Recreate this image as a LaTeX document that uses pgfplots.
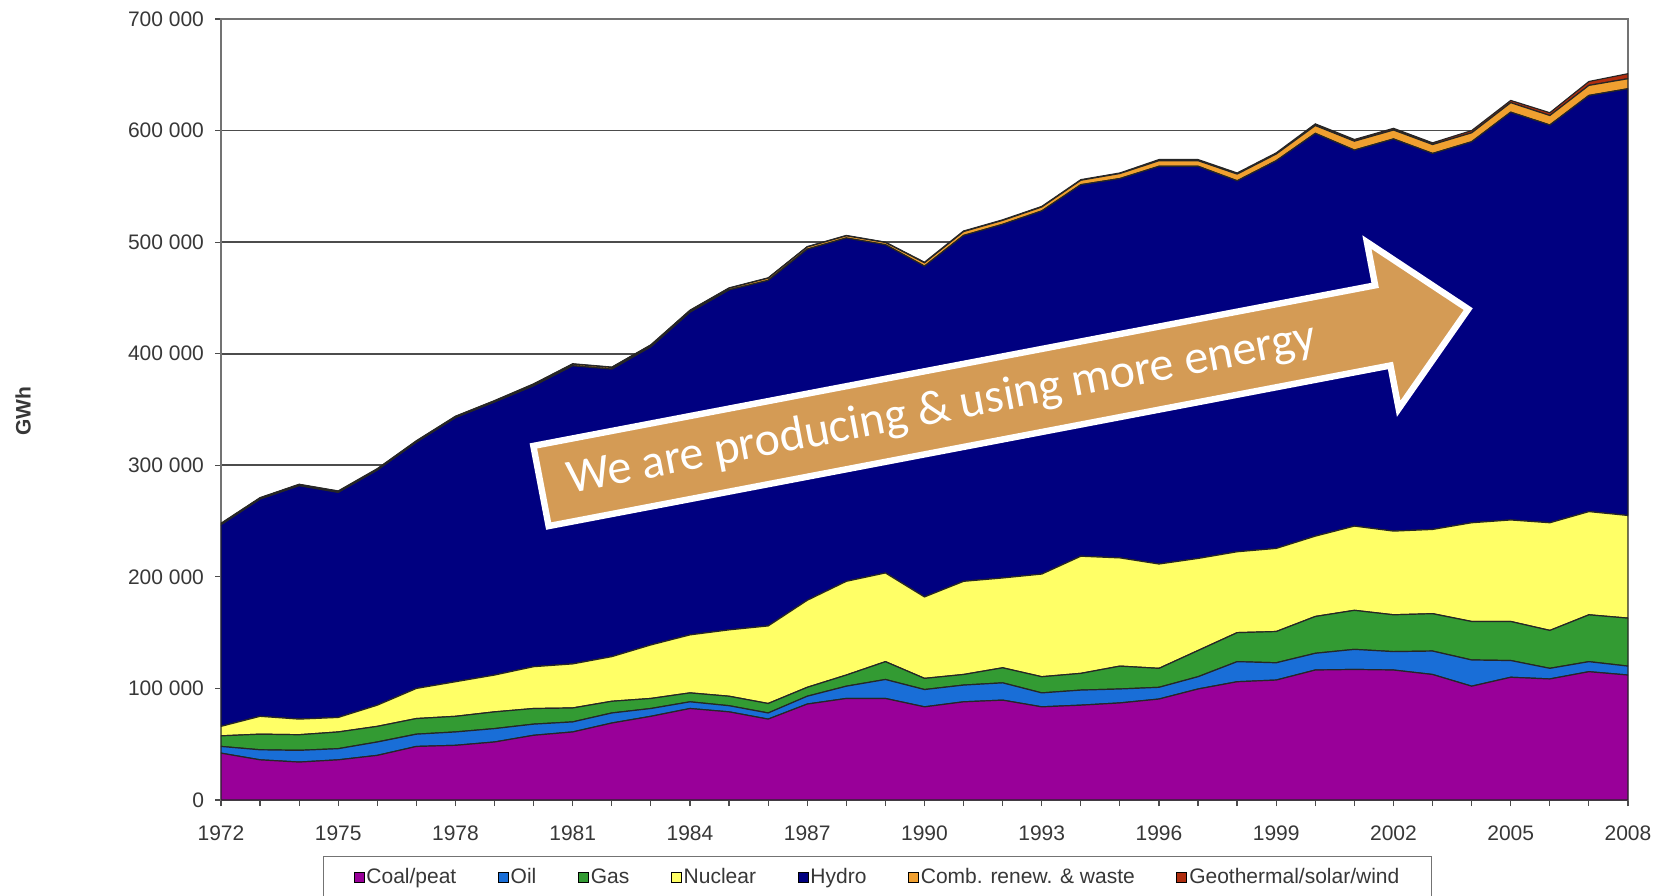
\documentclass[border=0pt]{standalone}
\usepackage{pgfplots}
\pgfplotsset{compat=1.18}
\usepackage{pgfplotstable}
\usepackage{fontspec}
\setmainfont{Liberation Sans}
\newfontfamily\calibri{Carlito}
\definecolor{coal}{RGB}{153,0,153}
\definecolor{oil}{RGB}{25,110,215}
\definecolor{gas}{RGB}{51,155,51}
\definecolor{nuc}{RGB}{255,255,102}
\definecolor{hydro}{RGB}{0,0,128}
\definecolor{comb}{RGB}{240,160,48}
\definecolor{geo}{RGB}{175,45,15}
\definecolor{arrowfill}{RGB}{212,155,85}
\definecolor{txt}{RGB}{55,55,55}

\pgfplotstableread{
year coal oil gas nuclear hydro comb geo
1972 42000 6000 9500 8500 180700 1000 300
1973 36000 9000 14000 16000 194700 1000 300
1974 34000 10500 14000 14000 209200 1000 300
1975 36000 10000 15000 13000 201700 1000 300
1976 40000 12000 14000 19000 210700 1000 300
1977 48000 11000 14000 27000 220700 1000 300
1978 49000 12000 14000 31000 236700 1000 300
1979 52000 12000 15000 33000 244700 1000 300
1980 58000 10000 14000 37500 251700 1500 300
1981 61000 9000 12500 39500 267200 1500 300
1982 69000 9000 10500 40000 257700 1500 300
1983 75000 7000 9000 48000 267200 1500 300
1984 82000 6000 8000 52000 289200 1500 300
1985 79000 5500 8500 59500 304700 1500 300
1986 72500 5500 8500 69500 309700 2000 300
1987 86000 7000 8000 78000 314700 2000 300
1988 91000 11000 10000 84000 307700 2000 300
1989 91000 17000 16000 79500 294200 2000 300
1990 83500 15500 10000 73000 296500 3000 500
1991 88000 15000 9500 83500 310000 3500 500
1992 89500 15500 13500 80500 317000 3500 500
1993 83500 12500 14500 92000 325500 3500 500
1994 85000 13500 15000 105000 333000 4000 500
1995 87000 12500 20500 97000 340000 4500 500
1996 90500 10500 17000 93500 356500 5000 1000
1997 99500 11000 23500 82500 351500 5000 1000
1998 106000 18000 26000 72500 332500 6000 1000
1999 107500 15500 28000 74500 347500 6000 1000
2000 116500 15000 33000 72000 361000 7000 1500
2001 117000 18000 35000 75500 337000 8000 1500
2002 116500 16500 33000 75000 351500 8000 1500
2003 112500 21000 33500 75500 337000 8000 1500
2004 102000 23500 34500 88500 341500 8000 2000
2005 110000 15000 35000 91000 365500 8500 2000
2006 108500 9500 34000 96500 356500 8500 2500
2007 115000 9000 42000 92500 373000 9000 3500
2008 112000 8000 43000 92000 382500 9000 4500
}\datatable

\begin{document}
\begin{tikzpicture}[x=1pt,y=1pt]
\begin{axis}[
  at={(110.5pt,47.5pt)}, anchor=south west,
  scale only axis, width=703.5pt, height=390.5pt,
  xmin=1972, xmax=2008, ymin=0, ymax=700000,
  stack plots=y,
  font=\fontsize{10.5}{12}\selectfont,
  xtick={1972,1975,1978,1981,1984,1987,1990,1993,1996,1999,2002,2005,2008},
  xticklabels={1972,1975,1978,1981,1984,1987,1990,1993,1996,1999,2002,2005,2008},
  minor xtick={1972,...,2008},
  ytick={0,100000,200000,300000,400000,500000,600000,700000},
  yticklabels={0,100 000,200 000,300 000,400 000,500 000,600 000,700 000},
  xticklabel style={yshift=-6.5pt, text=txt},
  yticklabel style={xshift=-2pt, text=txt, inner ysep=1pt},
  tick pos=left, tick align=outside,
  major tick length=3pt, minor tick length=3pt,
  every tick/.style={black!70, line width=0.6pt},
  axis line style={draw=black!55, line width=0.7pt},
  ymajorgrids, major grid style={draw=black!70, line width=0.9pt},
  ylabel={GWh},
  ylabel style={at={(axis description cs:-0.1407,0.498)}, anchor=center, font=\fontsize{10.5}{12}\selectfont\bfseries, text=txt},
  legend columns=7,
  legend cell align=left,
  legend image code/.code={\draw[#1, draw=black, line width=0.4pt] (0pt,-2.5pt) rectangle (5pt,2.5pt);},
  legend style={at={(0.4666,-0.0717)}, anchor=north, draw=black!55, line width=0.7pt,
    inner xsep=15pt, inner ysep=5pt, text=txt,
    font=\fontsize{10.5}{12}\selectfont,
    nodes={inner xsep=1pt, inner ysep=1pt},
    /tikz/every even column/.append style={column sep=19.8pt}},
]
\addplot[fill=coal, draw=black!85, line width=0.6pt] table[x=year,y=coal]{\datatable} \closedcycle;
\addlegendentry{Coal/peat}
\addplot[fill=oil, draw=black!85, line width=0.6pt] table[x=year,y=oil]{\datatable} \closedcycle;
\addlegendentry{Oil}
\addplot[fill=gas, draw=black!85, line width=0.6pt] table[x=year,y=gas]{\datatable} \closedcycle;
\addlegendentry{Gas}
\addplot[fill=nuc, draw=black!85, line width=0.6pt] table[x=year,y=nuclear]{\datatable} \closedcycle;
\addlegendentry{Nuclear}
\addplot[fill=hydro, draw=black!85, line width=0.6pt] table[x=year,y=hydro]{\datatable} \closedcycle;
\addlegendentry{Hydro}
\addplot[fill=comb, draw=black!85, line width=0.6pt] table[x=year,y=comb]{\datatable} \closedcycle;
\addlegendentry{Comb. renew. \& waste}
\addplot[fill=geo, draw=black!85, line width=0.6pt] table[x=year,y=geo]{\datatable} \closedcycle;
\addlegendentry{Geothermal/solar/wind}
\end{axis}
\begin{scope}[shift={(270.5,204.5)}, rotate=10.8]
\draw[fill=arrowfill, draw=white, line width=3.2pt, line join=miter, miter limit=4]
  (0,-20.4) -- (428.5,-20.4) -- (428.5,-42.4) -- (472,0) -- (428.5,42.4) -- (428.5,20.4) -- (0,20.4) -- cycle;
\node[text=white, font=\calibri\fontsize{24}{29}\selectfont, inner sep=0pt, rotate=10.8] at (204,0) {We are producing \& using more energy};
\end{scope}
\pgfresetboundingbox
\path[use as bounding box] (0,0) rectangle (830.5,447.5);
\end{tikzpicture}
\end{document}
